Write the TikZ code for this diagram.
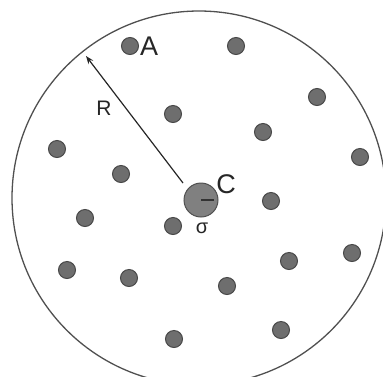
\documentclass[tikz,border=0pt]{standalone}
\usepackage{fontspec}
\setmainfont{Liberation Sans}
\usetikzlibrary{arrows.meta, positioning}
\definecolor{dotFill}{HTML}{6E6E6E}
\definecolor{dotStroke}{HTML}{484848}
\definecolor{bigFill}{HTML}{808080}
\definecolor{ringStroke}{HTML}{505050}
\tikzset{
  dot/.style = {circle, draw=dotStroke, fill=dotFill, line width=1pt,
    minimum size=17pt, inner sep=0pt},
  bigdot/.style = {circle, draw=ringStroke, fill=bigFill, line width=1pt,
    minimum size=34pt, inner sep=0pt},
  ring/.style = {circle, draw=ringStroke, line width=1.3pt,
    minimum size=374pt, inner sep=0pt},
  lbl/.style = {inner sep=0pt, text=black!85},
  arr/.style = {-{Stealth[length=8pt, width=6pt]}, line width=1.2pt, draw=black!85},
}
\begin{document}
\begin{tikzpicture}[x=1pt, y=-1pt]
\useasboundingbox (0,0) rectangle (383,376);
\clip (0,0) rectangle (383,376);

\node[ring] (ring) at (199,198) {};
\node[bigdot] (c) at (201,200) {};

% particles
\foreach \n/\px/\py in {a/130/46, d2/236/46, d3/317/97, d4/173/114,
    d5/263/132, d6/57/149, d7/360/157, d8/121/174, d9/271/201,
    d10/85/218, d11/173/226, d12/352/253, d13/289/261, d14/67/270,
    d15/129/278, d16/227/286, d17/281/330, d18/174/339}
  \node[dot] (\n) at (\px,\py) {};

\node[lbl, font=\fontsize{27}{27}\selectfont, right=1pt of a] (alab) {A};
\node[lbl, font=\fontsize{27}{27}\selectfont] (clab) at (226,184) {C};
\node[lbl, font=\fontsize{20}{20}\selectfont] (sig) at (202,228) {σ};
\node[lbl, font=\fontsize{21}{21}\selectfont] (rlab) at (104,108) {R};

\coordinate (from) at (183,183);
\coordinate (tip) at (86,56);
\draw[arr] (from) -- (tip);
\draw[line width=1.2pt, draw=black!80] (c.center) -- ++(13,0);

\end{tikzpicture}
\end{document}
